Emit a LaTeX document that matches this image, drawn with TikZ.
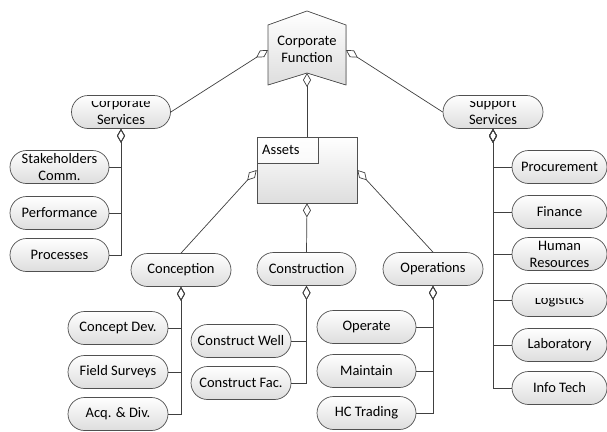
\documentclass[tikz,border=0pt]{standalone}
\usepackage{fontspec}
\setmainfont{Carlito}
\usetikzlibrary{arrows.meta}
\definecolor{linec}{HTML}{404040}
\definecolor{borderc}{HTML}{505050}
\tikzset{
  pill/.style={draw=borderc, line width=0.7pt, rounded corners=16.5pt, minimum width=99pt, minimum height=33pt,
    inner sep=0pt, top color=white, bottom color=black!13, align=center, font=\fontsize{14.5}{17}\selectfont},
  lbl/.style={inner sep=0pt, align=center, font=\fontsize{14.5}{17}\selectfont},
  agg/.style={draw=linec, line width=0.7pt, -{Diamond[open, length=14pt, width=8pt, line width=0.7pt]}},
  conn/.style={draw=linec, line width=0.7pt},
}
\begin{document}
\begin{tikzpicture}[x=1pt,y=-1pt]
\fill[white] (0,0) rectangle (607,431);
\useasboundingbox (0,0) rectangle (607,431);

% Corporate Function
\node[minimum width=78pt, minimum height=74pt, inner sep=0pt] (cf) at (307,48) {};
\filldraw[draw=borderc, line width=0.7pt, top color=white, bottom color=black!13]
  (307,11) -- (346,25) -- (346,85) -- (307,73) -- (268,85) -- (268,25) -- cycle;
\node[lbl] (cft) at (307,49) {Corporate\\Function};
\coordinate (cfL) at (268,50);
\coordinate (cfR) at (346,50);
\coordinate (cfB) at (307,73);

% Corporate Services (text clipped at top)
\node[pill] (cs) at (121,112) {};
\begin{scope}
  \clip (71,101) rectangle (171,130);
  \node[lbl] (cst) at (121,111.5) {Corporate\\Services};
\end{scope}

% Support Services (text clipped at top)
\node[pill, minimum width=100pt] (ss) at (493,112) {};
\begin{scope}
  \clip (443,101) rectangle (543,130);
  \node[lbl] (sst) at (493,111.5) {Support\\Services};
\end{scope}

% Corporate services children
\node[pill] (sh) at (59.5,167) {Stakeholders\\Comm.};
\node[pill] (pf) at (59.5,213) {Performance};
\node[pill] (pr) at (59.5,255) {Processes};

% Support services children
\node[pill, minimum width=95pt] (pc) at (559.5,167) {Procurement};
\node[pill, minimum width=95pt] (fi) at (559.5,212) {Finance};
\node[pill, minimum width=95pt] (hr) at (559.5,254) {Human\\Resources};
\node[pill, minimum width=95pt] (lg) at (559.5,300) {};
\begin{scope}
  \clip (512,298.5) rectangle (607,318);
  \node[lbl] (lgt) at (559.5,301) {Logistics};
\end{scope}
\node[pill, minimum width=95pt] (lb) at (559.5,345) {Laboratory};
\node[pill, minimum width=95pt] (it) at (559.5,388) {Info Tech};

% Assets
\node[draw=borderc, line width=0.7pt, minimum width=100pt, minimum height=66pt, inner sep=0pt,
  top color=white, bottom color=black!13] (as) at (307,170) {};
\node[draw=borderc, line width=0.7pt, anchor=north west, minimum width=61pt, minimum height=26pt,
  inner sep=0pt, fill=white, fill opacity=0.6, text opacity=1] (asl) at (as.north west) {};
\node[lbl, anchor=west] (aslt) at (262,150) {Assets};

% Phases
\node[pill, minimum width=100pt] (co) at (181,270) {Conception};
\node[pill] (cn) at (306.5,269) {Construction};
\node[pill, minimum width=100pt] (op) at (433,269) {Operations};

% Conception children
\node[pill, minimum width=100pt] (cd) at (118,328) {Concept Dev.};
\node[pill, minimum width=100pt] (fs) at (118,372) {Field Surveys};
\node[pill, minimum width=100pt] (ad) at (118,414) {Acq. \& Div.};

% Construction children
\node[pill, minimum width=100pt] (cw) at (241,341) {Construct Well};
\node[pill, minimum width=100pt] (cfa) at (241,383) {Construct Fac.};

% Operations children
\node[pill] (ot) at (366.5,327) {Operate};
\node[pill] (mt) at (366.5,371) {Maintain};
\node[pill] (hc) at (366.5,413) {HC Trading};

% Top-level connectors
\draw[agg] (cs.east) -- (cfL);
\draw[agg] (ss.west) -- (cfR);
\draw[agg] (as.north) -- (cfB);
\draw[agg] (co.north) -- (as.west);
\draw[agg] (cn.north) -- (as.south);
\draw[agg] (op.north) -- (as.east);

% Branch connectors
\foreach \c in {sh,pf,pr} \draw[agg] (\c.east) -| (cs.south);
\foreach \c in {pc,fi,hr,lg,lb,it} \draw[agg] (\c.west) -| (ss.south);
\foreach \c in {cd,fs,ad} \draw[agg] (\c.east) -| (co.south);
\foreach \c in {cw,cfa} \draw[agg] (\c.east) -| (cn.south);
\foreach \c in {ot,mt,hc} \draw[agg] (\c.east) -| (op.south);
\end{tikzpicture}
\end{document}
